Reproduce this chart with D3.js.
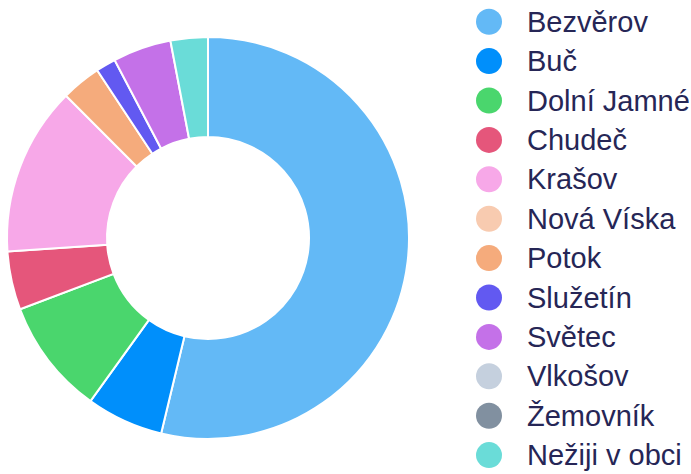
<!DOCTYPE html>
<html lang="cs">
<head>
    <meta charset="UTF-8">
    <title>Donut</title>
    <script src="https://d3js.org/d3.v7.min.js"></script>
    <style>
        body { margin: 0; background: #fff; }
        .legend text {
            font-family: "Liberation Sans", Arial, sans-serif;
            font-size: 29px;
            fill: #262656;
        }
    </style>
</head>
<body>
    <svg width="691" height="474"></svg>

    <script>
        var labels = ["Bezvěrov", "Buč", "Dolní Jamné", "Chudeč", "Krašov", "Nová Víska",
                      "Potok", "Služetín", "Světec", "Vlkošov", "Žemovník", "Nežiji v obci"];
        var values = [538, 62, 93, 47, 136, 0, 32, 16, 47, 0, 0, 30];
        var colors = ["#63b9f6", "#008ffb", "#4ad66d", "#e5567b", "#f7a8e8", "#f8cbb0",
                      "#f5ab7c", "#6259f1", "#c471e8", "#c5d0de", "#8190a0", "#6adcd8"];

        var data = labels.map(function(l, i) { return { name: l, value: values[i], color: colors[i] }; });

        var svg = d3.select("svg");
        var cx = 208, cy = 238, outer = 201, inner = 101;

        var pie = d3.pie().sort(null).value(function(d) { return d.value; });
        var arc = d3.arc().innerRadius(inner).outerRadius(outer);

        var g = svg.append("g").attr("transform", "translate(" + cx + "," + cy + ")");
        g.selectAll("path")
         .data(pie(data).filter(function(d) { return d.data.value > 0; }))
         .enter()
         .append("path")
         .attr("d", arc)
         .attr("fill", function(d) { return d.data.color; })
         .attr("stroke", "#fff")
         .attr("stroke-width", 2);

        var legend = svg.append("g")
                        .attr("class", "legend")
                        .attr("transform", "translate(489,21.7)");

        var items = legend.selectAll(".item")
                          .data(data)
                          .enter()
                          .append("g")
                          .attr("class", "item")
                          .attr("transform", function(d, i) { return "translate(0," + (i * 39.4) + ")"; });

        items.append("circle")
             .attr("r", 13)
             .attr("fill", function(d) { return d.color; });

        items.append("text")
             .attr("x", 38)
             .attr("dy", "0.35em")
             .text(function(d) { return d.name; });
    </script>
</body>
</html>
